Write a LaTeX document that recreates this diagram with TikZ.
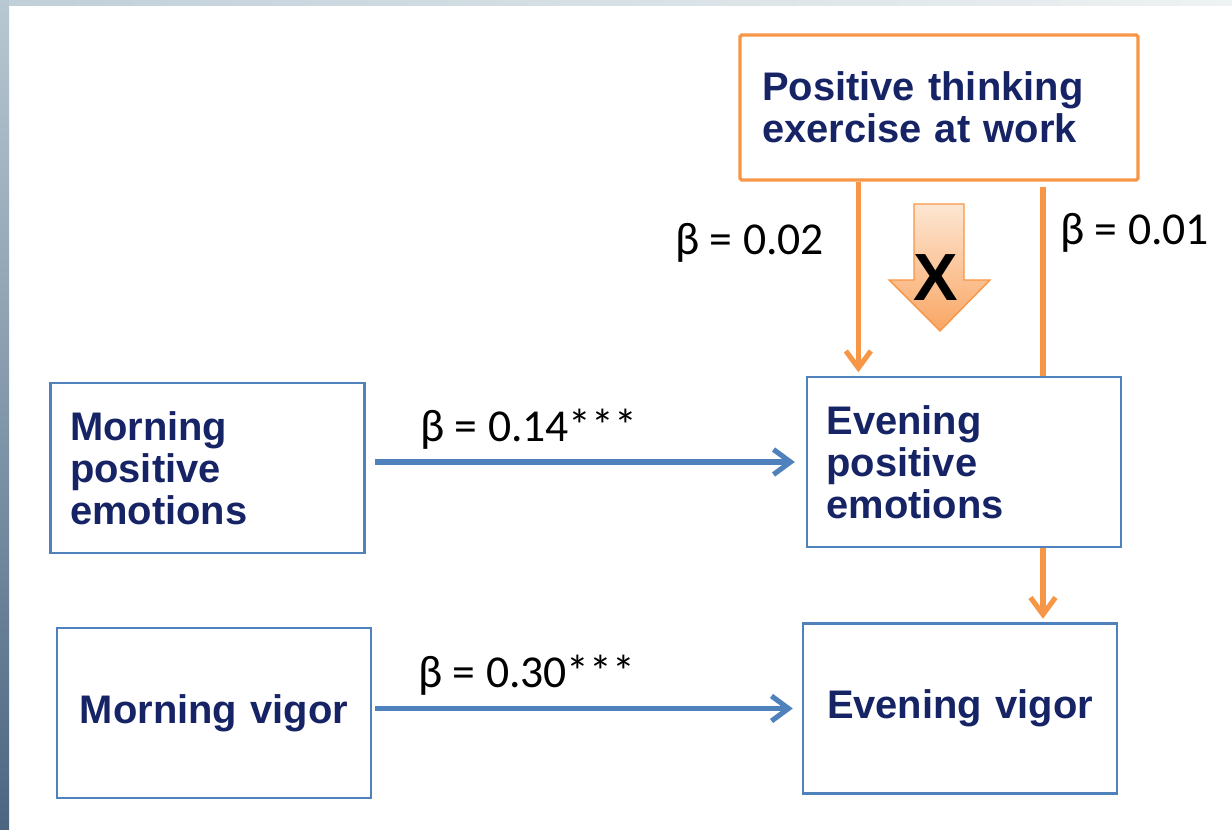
\documentclass[tikz,border=0pt]{standalone}
\usepackage{fontspec}
\setmainfont{Liberation Sans}
\newfontfamily\betafont{Carlito}
\usetikzlibrary{arrows.meta,positioning}
\definecolor{boxblue}{RGB}{79,129,189}
\definecolor{orangeline}{RGB}{247,150,70}
\definecolor{navytext}{RGB}{22,36,102}
\definecolor{stripdark}{RGB}{76,102,130}
\definecolor{striplight}{RGB}{184,200,210}
\definecolor{topleft}{RGB}{192,207,216}
\definecolor{topright}{RGB}{238,242,242}
\definecolor{peach}{RGB}{253,230,210}
\definecolor{peachdark}{RGB}{249,166,100}
\tikzset{
  varbox/.style={draw=boxblue,line width=1.4pt,minimum width=6.28cm,minimum height=3.4cm,
    text width=5.5cm,align=left,inner sep=0pt,text=navytext,
    font=\fontsize{22.7}{23.8}\selectfont\bfseries},
  bluearrow/.style={draw=boxblue,line width=2.9pt,-{Straight Barb[length=0.34cm,width=0.5cm]}},
  orline/.style={draw=orangeline,line width=2.9pt},
  orarrow/.style={orline,-{Straight Barb[length=0.34cm,width=0.5cm]}},
  betalabel/.style={anchor=base west,inner sep=0pt,font=\betafont\fontsize{26}{26}\selectfont}
}
\begin{document}
\begin{tikzpicture}[x=0.02cm,y=-0.02cm]
%slide background
\useasboundingbox (0,0) rectangle (1232,830);
\fill[white] (0,0) rectangle (1232,830);
\shade[top color=striplight,bottom color=stripdark] (0,0) rectangle (9,830);
\shade[left color=topleft,right color=topright] (9,0) rectangle (1232,6);
%boxes
\node[varbox,draw=orangeline,line width=1.9pt,rounded corners=1pt,minimum width=7.96cm,
  minimum height=2.9cm,text width=7.08cm] (think) at (939,107.5) {Positive thinking\\exercise at work};
\node[varbox] (mpe) at (207.5,468) {Morning\\positive\\emotions};
\node[varbox] (epe) at (964,462) {Evening\\positive\\emotions};
\node[varbox,align=center] (mv) at (214,713) {Morning vigor};
\node[varbox,align=center] (ev) at (960,708.5) {Evening vigor};
%arrows
\draw[bluearrow,shorten <=0.18cm,shorten >=0.22cm] (mpe.east |- epe) -- (epe.west);
\draw[bluearrow,shorten <=0.06cm,shorten >=0.18cm] (mv.east |- ev) -- (ev.west);
\coordinate (p02) at ([xshift=2.4cm]think.south west);
\coordinate (p01) at ([xshift=2.08cm]think.south);
\draw[orarrow,shorten >=2pt] (p02) -- (p02 |- epe.north);
\draw[orline,shorten <=0.1cm] (p01) -- (p01 |- epe.north);
\draw[orarrow,shorten >=2pt] (p01 |- epe.south) -- (p01 |- ev.north);
%block arrow
\draw[orangeline,line width=0.8pt,top color=peach,bottom color=peachdark]
  (914,204) -- (964,204) -- (964,280) -- (990,280) -- (940,331) -- (889,280) -- (914,280) -- cycle;
\node[font=\fontsize{38}{38}\selectfont\bfseries] (cross) at (936,278) {X};
%labels
\node[betalabel] (lab14) at (420,442) {β = 0.14***};
\node[betalabel] (lab30) at (418,688) {β = 0.30***};
\node[betalabel] (lab02) at (675,255) {β = 0.02};
\node[betalabel] (lab01) at (1060,245) {β = 0.01};
\end{tikzpicture}
\end{document}
